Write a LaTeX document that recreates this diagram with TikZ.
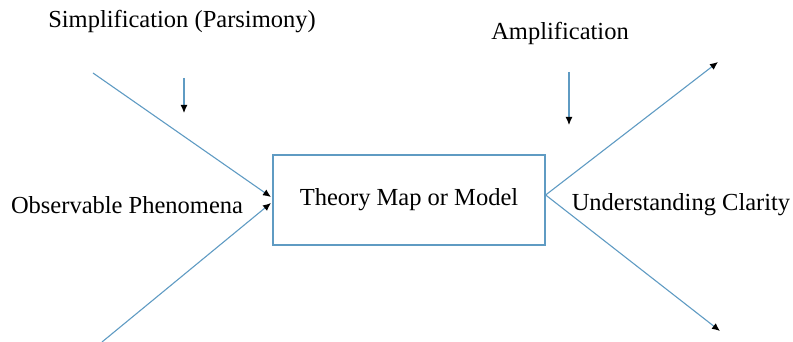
\documentclass[tikz,border=0pt]{standalone}
\usepackage{fontspec}
\setmainfont{Liberation Serif}
\usetikzlibrary{arrows.meta}
\definecolor{lineblue}{RGB}{95,155,195}
\begin{document}
\begin{tikzpicture}[x=1pt,y=-1pt,
  lbl/.style={font=\fontsize{24.5}{28}\selectfont, inner sep=0pt, anchor=center},
  conn/.style={draw=lineblue, line width=1.1pt, -{Latex[length=8pt,width=7pt,color=black]}},
  plainline/.style={draw=lineblue, line width=1pt}]
\useasboundingbox (0,0) rectangle (793,342);
\node[draw=lineblue, line width=1.3pt, minimum width=272pt, minimum height=90pt, inner sep=0pt] (T) at (409,200) {};
\node[lbl] (Tt) at (409,200) {Theory Map or Model};
\node[lbl] (simp) at (182,22) {Simplification (Parsimony)};
\node[lbl] (amp) at (560,33) {Amplification};
\node[lbl] (obs) at (127,205) {Observable Phenomena};
\node[lbl] (und) at (681,205) {Understanding Clarity};
\coordinate (ul) at (93,73);
\coordinate (ll) at (102,342);
\coordinate (ulend) at (271,197);
\coordinate (llend) at (271,203);
\coordinate (apex) at (T.east);
\coordinate (ur) at (718,62);
\coordinate (lr) at (720,331);
\coordinate (sa1) at (184,78);
\coordinate (sa2) at (184,113);
\coordinate (aa1) at (569,72);
\coordinate (aa2) at (569,125);
\draw[conn] (ul) -- (ulend);
\draw[conn] (ll) -- (llend);
\draw[conn] ([yshift=5pt]apex) -- (ur);
\draw[conn] ([yshift=5pt]apex) -- (lr);
\draw[conn] (sa1) -- (sa2);
\draw[conn] (aa1) -- (aa2);
\end{tikzpicture}
\end{document}
